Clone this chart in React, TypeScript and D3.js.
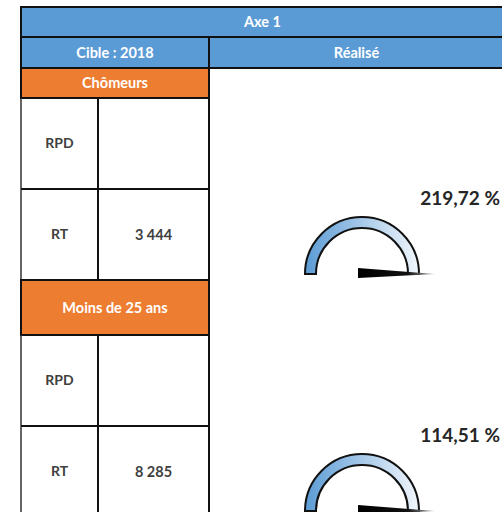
import React, { useEffect, useRef } from 'react';
import * as d3 from 'd3';

// table content
const title = 'Axe 1';
const headers = ['Cible : 2018', 'Réalisé'];
const sections = ['Chômeurs', 'Moins de 25 ans'];
const rowLabels = ['RPD', 'RT'];
const rpdTargets: (number | null)[] = [null, null];
const rtTargets = [3444, 8285];
const achieved = [219.72, 114.51];

const BLUE = '#5b9bd5';
const ORANGE = '#ed7d31';
const FONT = 'Lato, "Open Sans", sans-serif';

const fr = d3.formatLocale({ decimal: ',', thousands: ' ', grouping: [3], currency: ['', ' €'] });
const fmtInt = fr.format(',d');
const fmtPct = fr.format('.2f');

export default function App() {
  const ref = useRef<SVGSVGElement | null>(null);

  useEffect(() => {
    if (!ref.current) return;
    const svg = d3.select(ref.current);
    svg.selectAll('*').remove();

    const x0 = 21, xMid = 98, xSplit = 209, xRight = 504;
    const headH = 30, subH = 31, rowH = 91;
    const sectionH = [30, 55];

    const defs = svg.append('defs');
    const grad = defs.append('linearGradient').attr('id', 'gaugeFill')
      .attr('x1', '0%').attr('x2', '100%').attr('y1', '0%').attr('y2', '0%');
    grad.append('stop').attr('offset', '0%').attr('stop-color', '#5b9bd5');
    grad.append('stop').attr('offset', '100%').attr('stop-color', '#f1f6fc');
    const ng = defs.append('linearGradient').attr('id', 'needleFill')
      .attr('x1', '0%').attr('x2', '100%').attr('y1', '0%').attr('y2', '0%');
    ng.append('stop').attr('offset', '0%').attr('stop-color', '#000');
    ng.append('stop').attr('offset', '65%').attr('stop-color', '#111');
    ng.append('stop').attr('offset', '100%').attr('stop-color', '#bbb');

    const g = svg.append('g');
    let y = 7;

    // title row
    g.append('rect').attr('x', x0).attr('y', y).attr('width', xRight - x0).attr('height', headH)
      .attr('fill', BLUE).attr('stroke', '#111').attr('stroke-width', 2);
    g.append('text').attr('x', (x0 + xRight) / 2).attr('y', y + headH / 2).attr('dy', '0.35em')
      .attr('text-anchor', 'middle').attr('fill', '#fff').attr('font-weight', 700)
      .attr('font-size', 14.5).attr('font-family', FONT).text(title);
    y += headH;

    // sub header
    [[x0, xSplit], [xSplit, xRight]].forEach(([a, b], i) => {
      g.append('rect').attr('x', a).attr('y', y).attr('width', b - a).attr('height', subH)
        .attr('fill', BLUE).attr('stroke', '#111').attr('stroke-width', 2);
      g.append('text').attr('x', (a + b) / 2).attr('y', y + subH / 2).attr('dy', '0.35em')
        .attr('text-anchor', 'middle').attr('fill', '#fff').attr('font-weight', 700)
        .attr('font-size', 14.5).attr('font-family', FONT).text(headers[i]);
    });
    y += subH;

    const angle = d3.scaleLinear().domain([0, 100]).range([-Math.PI / 2, Math.PI / 2]).clamp(true);
    const arc = d3.arc<any>().innerRadius(46).outerRadius(57)
      .startAngle(-Math.PI / 2).endAngle(Math.PI / 2);

    const gx = 362;
    const bodyTop = y;

    sections.forEach((name, s) => {
      g.append('rect').attr('x', x0).attr('y', y).attr('width', xSplit - x0).attr('height', sectionH[s])
        .attr('fill', ORANGE).attr('stroke', '#111').attr('stroke-width', 2);
      g.append('text').attr('x', (x0 + xSplit) / 2).attr('y', y + sectionH[s] / 2).attr('dy', '0.35em')
        .attr('text-anchor', 'middle').attr('fill', '#fff').attr('font-weight', 700)
        .attr('font-size', 14.5).attr('font-family', FONT).text(name);
      y += sectionH[s];
      const rowsTop = y;

      const vals = [rpdTargets[s], rtTargets[s]];
      rowLabels.forEach((lab, r) => {
        g.append('line').attr('x1', x0).attr('x2', x0).attr('y1', y).attr('y2', y + rowH)
          .attr('stroke', '#333').attr('stroke-width', 1.5);
        g.append('rect').attr('x', xMid).attr('y', y).attr('width', xSplit - xMid).attr('height', rowH)
          .attr('fill', 'none').attr('stroke', '#111').attr('stroke-width', 2);
        g.append('line').attr('x1', x0).attr('x2', xMid).attr('y1', y + rowH).attr('y2', y + rowH)
          .attr('stroke', '#111').attr('stroke-width', 2);
        g.append('text').attr('x', (x0 + xMid) / 2).attr('y', y + rowH / 2).attr('dy', '0.35em')
          .attr('text-anchor', 'middle').attr('fill', '#404040').attr('font-weight', 700)
          .attr('font-size', 14).attr('font-family', FONT).text(lab);
        const v = vals[r];
        if (v != null) {
          g.append('text').attr('x', (xMid + xSplit) / 2).attr('y', y + rowH / 2).attr('dy', '0.35em')
            .attr('text-anchor', 'middle').attr('fill', '#404040').attr('font-weight', 700)
            .attr('font-size', 14.5).attr('font-family', FONT).text(fmtInt(v));
        }
        y += rowH;
      });

      // gauge in the "Réalisé" column
      const cy = rowsTop + 176;
      const gg = g.append('g').attr('transform', `translate(${gx},${cy})`);
      gg.append('path').attr('d', arc({}) as string).attr('fill', 'url(#gaugeFill)')
        .attr('stroke', '#111').attr('stroke-width', 2);
      const deg = ((angle(achieved[s]) - Math.PI / 2) * 180) / Math.PI;
      gg.append('path')
        .attr('d', 'M-4,-6 L73,0 L-4,4 Z')
        .attr('transform', `rotate(${deg})`)
        .attr('fill', 'url(#needleFill)');
      g.append('text').attr('x', 500).attr('y', rowsTop + 107).attr('text-anchor', 'end')
        .attr('fill', '#262626').attr('font-weight', 700).attr('font-size', 19)
        .attr('font-family', FONT).text(`${fmtPct(achieved[s])} %`);
    });

    // right column border
    g.append('line').attr('x1', xSplit).attr('x2', xSplit).attr('y1', bodyTop).attr('y2', 520)
      .attr('stroke', '#111').attr('stroke-width', 2);
  }, []);

  return (
    <svg ref={ref} width={502} height={512}
      style={{ position: 'absolute', left: 0, top: 0, background: '#fff' }} />
  );
}
